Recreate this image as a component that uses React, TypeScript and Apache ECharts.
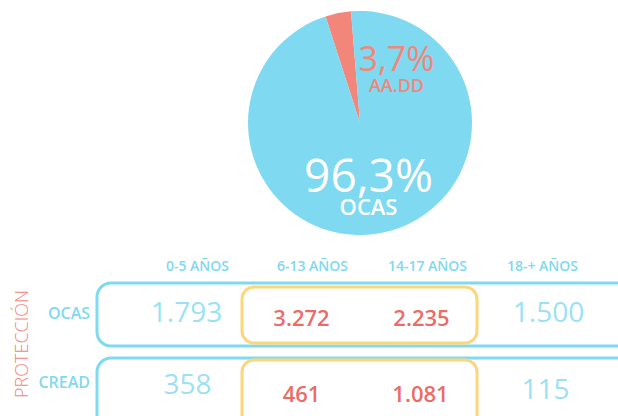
import React, { useEffect, useRef } from "react";
import * as echarts from "echarts";

// Pie data
const pieNames = ["AA.DD", "OCAS"];
const pieValues = [3.7, 96.3];

// Table data
const ageGroups = ["0-5 AÑOS", "6-13 AÑOS", "14-17 AÑOS", "18-+ AÑOS"];
const tableRows = ["OCAS", "CREAD"];
const ocasCounts = [1793, 3272, 2235, 1500];
const creadCounts = [358, 461, 1081, 115];
const highlightedCols = [1, 2];

const BLUE = "#7FD9F0";
const SALMON = "#F2867B";
const RED = "#E6433D";
const YELLOW = "#FDD67B";
const FONT = "'Open Sans', 'Noto Sans', sans-serif";

const fmtThousands = (v: number) =>
  String(v).replace(/\B(?=(\d{3})+(?!\d))/g, ".");

// label offsets (styling only)
const blueOffsets: Record<string, [number, number]> = {
  "0-0": [-11, -2],
  "3-0": [6, -2],
  "0-1": [-10, 1],
  "3-1": [3, 6],
};
const redOffsets: Record<string, [number, number]> = {
  "1-0": [-11, 4],
  "2-0": [-6, 4],
  "1-1": [-11, 11],
  "2-1": [-7, 11],
};

export default function App() {
  const ref = useRef<HTMLDivElement>(null);
  useEffect(() => {
    if (!ref.current) return;
    const chart = echarts.init(ref.current, null, { renderer: "svg" });
    const allRows = [ocasCounts, creadCounts];
    const blueData: any[] = [];
    const redData: any[] = [];
    allRows.forEach((vals, r) => {
      vals.forEach((v, c) => {
        const key = `${c}-${r}`;
        if (highlightedCols.includes(c)) {
          redData.push({ value: [c, r, v], label: { offset: redOffsets[key] } });
        } else {
          blueData.push({ value: [c, r, v], label: { offset: blueOffsets[key] } });
        }
      });
    });

    const pieData = pieNames.map((n, i) => ({
      name: n,
      value: pieValues[i],
      itemStyle: { color: i === 0 ? SALMON : BLUE },
      label: i === 0 ? { offset: [48, 2] } : { offset: [-3, 4] },
    }));

    chart.setOption({
      animation: false,
      backgroundColor: "#ffffff",
      textStyle: { fontFamily: FONT },
      grid: { left: 140, top: 278, width: 460, height: 148 },
      xAxis: {
        type: "category",
        position: "top",
        data: ageGroups,
        axisLine: { show: false },
        axisTick: { show: false },
        splitLine: { show: false },
        axisLabel: {
          color: BLUE,
          fontSize: 14,
          fontWeight: 600,
          fontFamily: FONT,
          margin: 6,
        },
      },
      yAxis: {
        type: "category",
        inverse: true,
        data: tableRows,
        axisLine: { show: false },
        axisTick: { show: false },
        splitLine: { show: false },
        axisLabel: {
          color: BLUE,
          fontSize: 16,
          fontWeight: 600,
          fontFamily: FONT,
          margin: 50,
        },
      },
      graphic: [
        {
          type: "rect",
          silent: true,
          z: 0,
          shape: { x: 97, y: 283, width: 560, height: 63, r: 14 },
          style: { fill: "none", stroke: BLUE, lineWidth: 3 },
        },
        {
          type: "rect",
          silent: true,
          z: 0,
          shape: { x: 97, y: 358, width: 560, height: 90, r: 14 },
          style: { fill: "none", stroke: BLUE, lineWidth: 3 },
        },
        {
          type: "rect",
          silent: true,
          z: 0,
          shape: { x: 242, y: 287, width: 235, height: 56, r: 12 },
          style: { fill: "none", stroke: YELLOW, lineWidth: 3 },
        },
        {
          type: "rect",
          silent: true,
          z: 0,
          shape: { x: 242, y: 360, width: 235, height: 80, r: 12 },
          style: { fill: "none", stroke: YELLOW, lineWidth: 3 },
        },
        {
          type: "text",
          silent: true,
          x: 21,
          y: 344,
          rotation: Math.PI / 2,
          style: {
            text: "PROTECCIÓN",
            fill: SALMON,
            fontSize: 18,
            fontWeight: 300,
            fontFamily: FONT,
            align: "center",
            verticalAlign: "middle",
          },
        },
      ],
      series: [
        {
          type: "pie",
          center: [360, 123],
          radius: 112,
          startAngle: 94.6,
          clockwise: false,
          silent: true,
          emphasis: { disabled: true },
          labelLine: { show: false },
          label: {
            show: true,
            position: "inside",
            rotate: 0,
            formatter: (p: any) =>
              `{p${p.dataIndex}|${p.value.toFixed(1).replace(".", ",")}%}\n{n${p.dataIndex}|${p.name}}`,
            rich: {
              p0: { fontSize: 34, lineHeight: 36, color: SALMON, fontFamily: FONT },
              n0: { fontSize: 18, lineHeight: 18, color: SALMON, fontFamily: FONT, fontWeight: 600 },
              p1: { fontSize: 46, lineHeight: 42, color: "#ffffff", fontFamily: FONT },
              n1: { fontSize: 22, lineHeight: 22, color: "#ffffff", fontFamily: FONT, fontWeight: 600 },
            },
          },
          data: pieData,
        },
        {
          type: "scatter",
          silent: true,
          symbolSize: 1,
          itemStyle: { color: "rgba(0,0,0,0)" },
          label: {
            show: true,
            position: "inside",
            color: BLUE,
            fontSize: 28,
            fontWeight: 400,
            fontFamily: FONT,
            formatter: (p: any) => fmtThousands(p.value[2]),
          },
          data: blueData,
        },
        {
          type: "scatter",
          silent: true,
          symbolSize: 1,
          itemStyle: { color: "rgba(0,0,0,0)" },
          label: {
            show: true,
            position: "inside",
            color: RED,
            fontSize: 22,
            fontWeight: 600,
            fontFamily: FONT,
            formatter: (p: any) => fmtThousands(p.value[2]),
          },
          data: redData,
        },
      ],
    });
    return () => chart.dispose();
  }, []);
  return (
    <div
      ref={ref}
      style={{ position: "fixed", left: 0, top: 0, width: 618, height: 416 }}
    />
  );
}
